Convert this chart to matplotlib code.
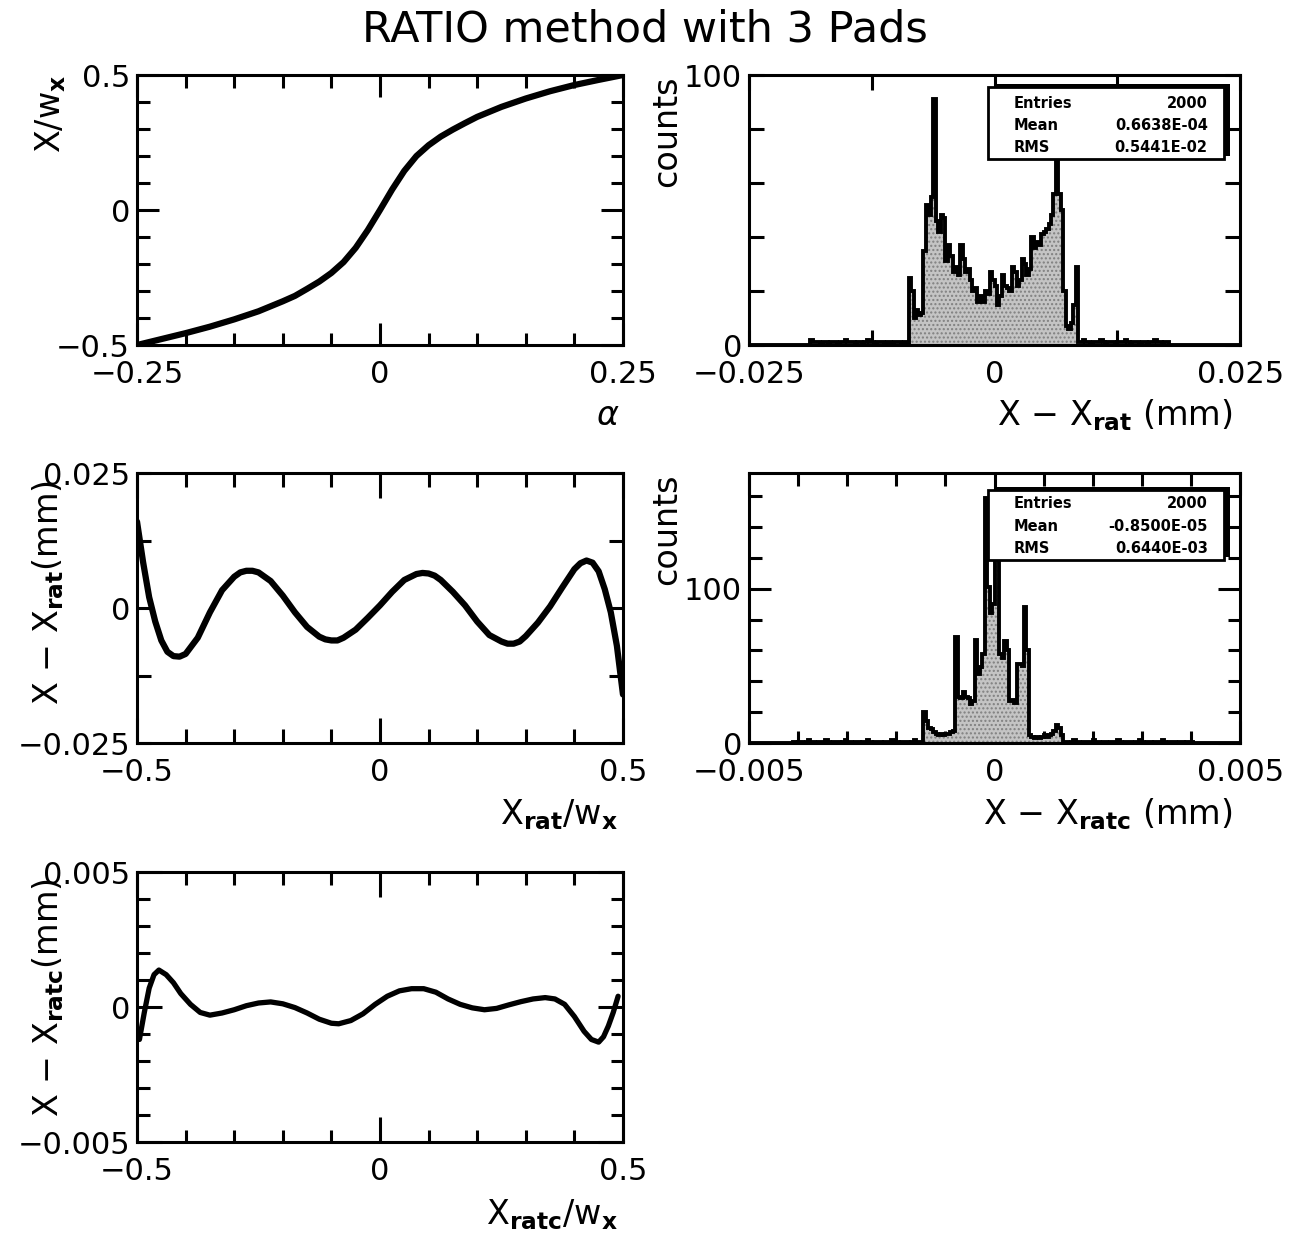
import numpy as np
import matplotlib
matplotlib.use("Agg")
import matplotlib.pyplot as plt
from matplotlib.patches import Rectangle
from matplotlib.ticker import FixedLocator

plt.rcParams.update({
    "font.family": ["DejaVu Sans"],
    "mathtext.fontset": "dejavusans",
    "mathtext.default": "regular",
    "axes.linewidth": 2.2,
})

TITLE = "RATIO method with 3 Pads"

# ---- response curve: X/w_x versus alpha --------------------------------
alpha = [-0.25, -0.225, -0.2, -0.175, -0.15, -0.125, -0.1, -0.0875, -0.075,
         -0.0625, -0.05, -0.0375, -0.025, -0.0125, 0.0, 0.0125, 0.025,
         0.0375, 0.05, 0.0625, 0.075, 0.0875, 0.1, 0.125, 0.15, 0.175, 0.2,
         0.225, 0.25]
x_over_w = [-0.5, -0.478, -0.456, -0.432, -0.405, -0.375, -0.338, -0.318,
            -0.292, -0.265, -0.233, -0.193, -0.14, -0.074, 0.0, 0.076, 0.145,
            0.2, 0.24, 0.272, 0.298, 0.322, 0.345, 0.382, 0.413, 0.44, 0.463,
            0.482, 0.5]

# ---- residual X - X_rat versus X_rat/w_x -------------------------------
xrat = [-0.5, -0.4875, -0.475, -0.4625, -0.45, -0.4375, -0.425, -0.4125,
        -0.4, -0.375, -0.35, -0.325, -0.3, -0.2875, -0.275, -0.2625, -0.25,
        -0.225, -0.2, -0.175, -0.15, -0.125, -0.1125, -0.1, -0.0875, -0.075,
        -0.05, -0.025, 0.0, 0.025, 0.05, 0.075, 0.0875, 0.1, 0.1125, 0.125,
        0.15, 0.175, 0.2, 0.225, 0.25, 0.2625, 0.275, 0.2875, 0.3, 0.325,
        0.35, 0.375, 0.4, 0.4125, 0.425, 0.4375, 0.45, 0.4625, 0.475, 0.4875,
        0.5]
res_rat = [0.016, 0.0085, 0.002, -0.0025, -0.006, -0.0081, -0.0089, -0.0090,
           -0.0085, -0.0055, -0.0008, 0.0033, 0.0058, 0.0066, 0.0069, 0.0069,
           0.0066, 0.005, 0.0023, -0.0008, -0.0035, -0.0053, -0.0058, -0.006,
           -0.006, -0.0055, -0.004, -0.0018, 0.0005, 0.003, 0.0052, 0.0063,
           0.0065, 0.0064, 0.006, 0.0052, 0.003, 0.0005, -0.0025, -0.005,
           -0.0062, -0.0066, -0.0066, -0.0062, -0.0052, -0.0027, 0.0003,
           0.0038, 0.0072, 0.0083, 0.0088, 0.0084, 0.0068, 0.0035, -0.0008,
           -0.007, -0.016]

# ---- residual X - X_ratc versus X_ratc/w_x -----------------------------
xratc = [-0.495, -0.485, -0.475, -0.465, -0.455, -0.44, -0.425, -0.41, -0.39,
         -0.37, -0.35, -0.325, -0.3, -0.275, -0.25, -0.225, -0.2, -0.175,
         -0.15, -0.125, -0.1, -0.085, -0.06, -0.035, -0.01, 0.015, 0.04,
         0.065, 0.09, 0.115, 0.14, 0.165, 0.19, 0.215, 0.24, 0.265, 0.29,
         0.315, 0.34, 0.36, 0.38, 0.4, 0.42, 0.435, 0.45, 0.46, 0.47, 0.48,
         0.49]
res_ratc = [-0.0012, -0.0002, 0.0007, 0.0012, 0.00137, 0.0012, 0.0009, 0.0005,
            0.0001, -0.0002, -0.0003, -0.00022, -0.0001, 0.00005, 0.00015,
            0.00019, 0.00012, -0.00002, -0.00022, -0.00045, -0.0006,
            -0.00062, -0.0005, -0.00025, 0.0001, 0.0004, 0.0006, 0.00068,
            0.00068, 0.00055, 0.0003, 0.0001, -0.00003, -0.0001, -0.00005,
            0.00008, 0.0002, 0.0003, 0.00035, 0.0003, 0.0001, -0.00035,
            -0.0009, -0.0012, -0.0013, -0.0011, -0.0007, -0.0002, 0.0004]

# ---- histogram of X - X_rat : 200 bins on [-0.025, 0.025] -------------
rat_nbins, rat_lo, rat_hi = 200, -0.025, 0.025
rat_tail_left_start = 25
rat_tail_left = [2, 1, 1, 1, 0, 1, 1, 0, 1, 1, 1, 0, 1, 1, 2, 1, 1, 1, 0, 1,
                 1, 0, 1, 2, 1, 1, 0, 1, 1, 1, 0, 1, 1, 0, 1, 1, 1, 0, 1, 0]
rat_core_start = 65
rat_core = [25, 20, 10, 13, 11, 12, 35, 52, 48, 55,
            91, 46, 42, 48, 47, 31, 37, 33, 27, 29,
            26, 37, 32, 27, 28, 24, 20, 21, 16, 18,
            16, 20, 19, 27, 24, 22, 15, 18, 26, 22,
            21, 20, 29, 27, 22, 24, 32, 30, 26, 28,
            40, 36, 38, 37, 41, 42, 43, 45, 48, 56,
            81, 56, 50, 20, 7, 6, 8, 15, 29]
rat_tail_right_start = 134
rat_tail_right = [1, 1, 2, 1, 1, 0, 1, 1, 1, 2, 1, 0, 1, 1, 1, 0, 1, 1, 1, 2,
                  1, 0, 1, 1, 1, 0, 1, 1, 0, 1, 1, 2, 1, 1, 0, 1, 1]
rat_stats = [("Entries", "2000"), ("Mean", "0.6638E-04"), ("RMS", "0.5441E-02")]

# ---- histogram of X - X_ratc : 200 bins on [-0.005, 0.005] ------------
ratc_nbins, ratc_lo, ratc_hi = 200, -0.005, 0.005
ratc_tail_left_start = 18
ratc_tail_left = [1, 0, 1, 1, 0, 1, 2, 1, 1, 0, 1, 1, 1, 2, 1, 0, 1, 1, 1, 0,
                  1, 2, 1, 1, 0, 1, 1, 0, 1, 1, 2, 1, 0, 1, 1, 1, 0, 1, 1, 0,
                  2, 1, 1, 0, 1, 1, 1, 0, 1, 2, 1, 1, 0]
ratc_core_start = 71
ratc_core = [20, 14, 10, 9, 7, 6, 5, 6, 5, 6,
             6, 7, 8, 69, 30, 29, 33, 30, 29, 25,
             27, 67, 45, 49, 58, 159, 101, 84, 90, 148,
             120, 58, 55, 66, 60, 27, 28, 26, 51, 51,
             50, 88, 60, 5, 4, 3, 4, 3, 4, 5,
             4, 5, 6, 8, 12, 10, 5]
ratc_tail_right_start = 128
ratc_tail_right = [1, 1, 0, 1, 2, 1, 1, 0, 1, 1, 1, 0, 2, 1, 1, 0, 1, 1, 0, 1,
                   1, 1, 2, 1, 0, 1, 1, 1, 0, 1, 1, 2, 1, 0, 1, 1, 0, 1, 1, 1,
                   2, 1, 0, 1, 1, 1, 0, 1, 1, 0, 1, 1, 1]
ratc_stats = [("Entries", "2000"), ("Mean", "-0.8500E-05"), ("RMS", "0.6440E-03")]


def fill_bins(nbins, pieces):
    counts = np.zeros(nbins)
    for start, values in pieces:
        counts[start:start + len(values)] = values
    return counts


def style(ax, xlim, ylim, xmajor, xlabels, xminor, ymajor, ylabels, yminor,
          major_len=16, minor_len=9):
    ax.set_xlim(*xlim)
    ax.set_ylim(*ylim)
    ax.set_xticks(xmajor)
    ax.set_xticklabels(xlabels)
    ax.set_yticks(ymajor)
    ax.set_yticklabels(ylabels)
    ax.xaxis.set_minor_locator(FixedLocator(xminor))
    ax.yaxis.set_minor_locator(FixedLocator(yminor))
    ax.tick_params(which="both", direction="in", top=True, right=True,
                   width=2.2, labelsize=22)
    ax.tick_params(which="major", length=major_len)
    ax.tick_params(which="minor", length=minor_len)
    ax.tick_params(axis="x", pad=11)
    ax.tick_params(axis="y", pad=5)


def ylabel(ax, text, x, top=1.0):
    ax.text(x, top, text, rotation=90, transform=ax.transAxes,
            ha="center", va="top", fontsize=24)


def xlabel(ax, text, right, y, **kw):
    ax.text(right, y, text, transform=ax.transAxes, ha="right",
            va="center", fontsize=24, **kw)


def stats_box(ax, rows, y0, y1, row_y):
    x0, x1 = 0.487, 0.967
    ax.add_patch(Rectangle((x0 + 0.012, y0 + 0.010), x1 - x0, y1 - y0,
                           transform=ax.transAxes, facecolor="black",
                           edgecolor="none", zorder=5, clip_on=False))
    ax.add_patch(Rectangle((x0, y0), x1 - x0, y1 - y0,
                           transform=ax.transAxes, facecolor="white",
                           edgecolor="black", lw=2, zorder=6, clip_on=False))
    for (name, value), yy in zip(rows, row_y):
        ax.text(0.538, yy, name, transform=ax.transAxes, ha="left",
                va="center", fontsize=10.5, fontweight="bold", zorder=7)
        ax.text(0.934, yy, value, transform=ax.transAxes, ha="right",
                va="center", fontsize=10.5, fontweight="bold", zorder=7)


def draw_hist(ax, counts, lo, hi):
    edges = np.linspace(lo, hi, len(counts) + 1)
    ax.stairs(counts, edges, fill=True, facecolor="#c4c4c4",
              edgecolor="#808080", hatch="....", lw=0, zorder=2)
    ax.stairs(counts, edges, color="black", lw=2.8, zorder=3)


fig = plt.figure(figsize=(13, 12.38), dpi=100)
fig.text(0.496, 0.976, TITLE, ha="center", va="center", fontsize=31)

LX, LW = 0.1054, 0.3738
RX, RW = 0.5762, 0.3777
H = 0.2181
ROWS = [0.7213, 0.3998, 0.0775]

# Top-left: X/w_x vs alpha
ax1 = fig.add_axes([LX, ROWS[0], LW, H])
ax1.plot(alpha, x_over_w, color="black", lw=4.5, solid_capstyle="round",
         solid_joinstyle="round")
style(ax1, (-0.25, 0.25), (-0.5, 0.5),
      [-0.25, 0, 0.25], ["\u22120.25", "0", "0.25"],
      [-0.2, -0.15, -0.1, -0.05, 0.05, 0.1, 0.15, 0.2],
      [-0.5, 0, 0.5], ["\u22120.5", "0", "0.5"],
      [-0.4, -0.3, -0.2, -0.1, 0.1, 0.2, 0.3, 0.4])
ylabel(ax1, "X/w$_{\\mathbf{x}}$", -0.178)
xlabel(ax1, "\u03b1", 0.99, -0.26, style="italic")

# Top-right: histogram of X - X_rat
ax2 = fig.add_axes([RX, ROWS[0], RW, H])
rat_counts = fill_bins(rat_nbins, [(rat_tail_left_start, rat_tail_left),
                                   (rat_core_start, rat_core),
                                   (rat_tail_right_start, rat_tail_right)])
draw_hist(ax2, rat_counts, rat_lo, rat_hi)
style(ax2, (rat_lo, rat_hi), (0, 100),
      [-0.025, 0, 0.025], ["\u22120.025", "0", "0.025"],
      [-0.0125, 0.0125],
      [0, 100], ["0", "100"], [20, 40, 60, 80],
      major_len=11, minor_len=11)
ylabel(ax2, "counts", -0.168)
xlabel(ax2, "X \u2212 X$_{\\mathbf{rat}}$ (mm)", 0.984, -0.26)
stats_box(ax2, rat_stats, 0.689, 0.957, [0.894, 0.814, 0.733])

# Middle-left: X - X_rat vs X_rat/w_x
ax3 = fig.add_axes([LX, ROWS[1], LW, H])
ax3.plot(xrat, res_rat, color="black", lw=4.5, solid_capstyle="round",
         solid_joinstyle="round")
style(ax3, (-0.5, 0.5), (-0.025, 0.025),
      [-0.5, 0, 0.5], ["\u22120.5", "0", "0.5"],
      [-0.4, -0.3, -0.2, -0.1, 0.1, 0.2, 0.3, 0.4],
      [-0.025, 0, 0.025], ["\u22120.025", "0", "0.025"],
      [-0.0125, 0.0125], major_len=18, minor_len=10)
ax3.tick_params(axis="y", which="major", length=10)
ylabel(ax3, "X \u2212 X$_{\\mathbf{rat}}$(mm)", -0.183, 0.975)
xlabel(ax3, "X$_{\\mathbf{rat}}$/w$_{\\mathbf{x}}$", 0.99, -0.265)

# Middle-right: histogram of X - X_ratc
ax4 = fig.add_axes([RX, ROWS[1], RW, H])
ratc_counts = fill_bins(ratc_nbins, [(ratc_tail_left_start, ratc_tail_left),
                                     (ratc_core_start, ratc_core),
                                     (ratc_tail_right_start, ratc_tail_right)])
draw_hist(ax4, ratc_counts, ratc_lo, ratc_hi)
style(ax4, (ratc_lo, ratc_hi), (0, 175),
      [-0.005, 0, 0.005], ["\u22120.005", "0", "0.005"],
      [-0.004, -0.003, -0.002, -0.001, 0.001, 0.002, 0.003, 0.004],
      [0, 100], ["0", "100"], [20, 40, 60, 80, 120, 140, 160],
      major_len=16, minor_len=9)
ylabel(ax4, "counts", -0.168)
xlabel(ax4, "X \u2212 X$_{\\mathbf{ratc}}$ (mm)", 0.984, -0.265)
stats_box(ax4, ratc_stats, 0.679, 0.938, [0.889, 0.802, 0.722])

# Bottom-left: X - X_ratc vs X_ratc/w_x
ax5 = fig.add_axes([LX, ROWS[2], LW, H])
ax5.plot(xratc, res_ratc, color="black", lw=3.8, solid_capstyle="round",
         solid_joinstyle="round")
style(ax5, (-0.5, 0.5), (-0.005, 0.005),
      [-0.5, 0, 0.5], ["\u22120.5", "0", "0.5"],
      [-0.4, -0.3, -0.2, -0.1, 0.1, 0.2, 0.3, 0.4],
      [-0.005, 0, 0.005], ["\u22120.005", "0", "0.005"],
      [-0.004, -0.003, -0.002, -0.001, 0.001, 0.002, 0.003, 0.004],
      major_len=18, minor_len=9)
ylabel(ax5, "X \u2212 X$_{\\mathbf{ratc}}$(mm)", -0.183, 0.975)
xlabel(ax5, "X$_{\\mathbf{ratc}}$/w$_{\\mathbf{x}}$", 0.99, -0.27)

fig.savefig("out.png", dpi=100, facecolor="white")
